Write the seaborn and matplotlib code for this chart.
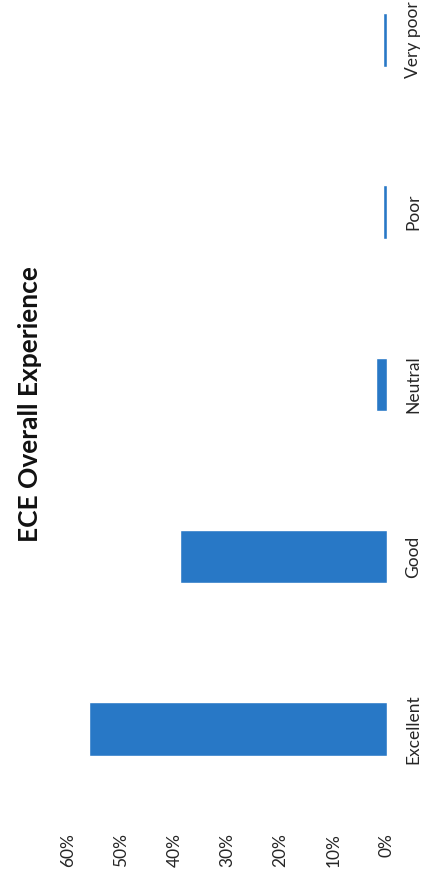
import matplotlib
matplotlib.use("Agg")
import matplotlib.pyplot as plt
import seaborn as sns

# survey answers, share of respondents (%)
categories = ["Excellent", "Good", "Neutral", "Poor", "Very poor"]
shares = [56, 39, 2, 0.8, 0.8]
pct_ticks = [0, 10, 20, 30, 40, 50, 60]
pct_labels = ["0%", "10%", "20%", "30%", "40%", "50%", "60%"]

sns.set_style("white")
plt.rcParams["font.family"] = ["Lato", "DejaVu Sans"]

fig = plt.figure(figsize=(4.3, 8.77), dpi=100)
ax = fig.add_axes([0.158, 0.0707, 0.742, 0.9293])

sns.barplot(x=shares, y=categories, orient="h", color="#2878c6",
            width=0.31, saturation=1, ax=ax)

# page is scanned sideways: zero on the right, categories bottom -> top
ax.set_xlim(60, 0)
ax.set_ylim(-0.5, 4.232)
ax.set_xticks(pct_ticks)
ax.set_xticklabels(pct_labels, rotation=90, ha="center", va="top", fontsize=12.5)
ax.yaxis.tick_right()
ax.set_yticks(range(len(categories)))
ax.set_yticklabels(categories, rotation=90, ha="left", va="center", fontsize=12.5)
ax.tick_params(axis="x", length=0, pad=13)
ax.tick_params(axis="y", length=0, pad=13)
ax.set_xlabel("")
ax.set_ylabel("")
for s in ax.spines.values():
    s.set_visible(False)

fig.text(30 / 430, 1 - 404 / 877, "ECE Overall Experience", rotation=90,
         ha="center", va="center", fontsize=19, fontweight="bold", color="#111111")

fig.savefig("out.png", dpi=100)
